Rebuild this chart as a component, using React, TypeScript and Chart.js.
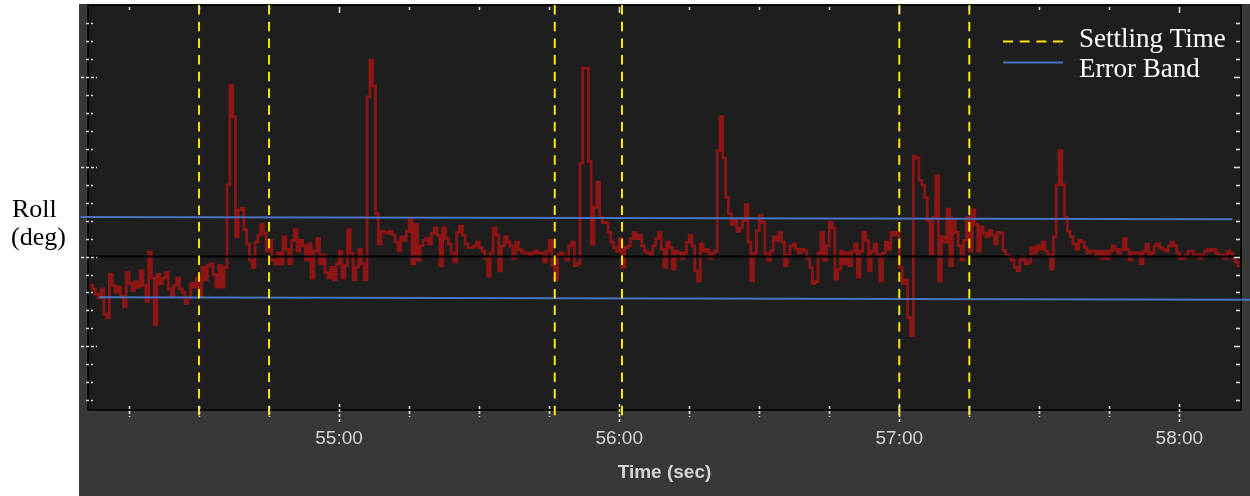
import React, { useEffect, useRef } from 'react';
import { Chart, registerables } from 'chart.js';

Chart.register(...registerables);

// ---- data ----
const ROLL_START = 54.11; // time of first sample
const ROLL_STEP = 0.01; // sample period
const rollDeg = [
  -1.6, -1.8, -2.1, -2.3, -1.8, -3.2, -3.4, -1.0, -1.6, -2.0,
  -1.7, -2.2, -2.8, -0.9, -1.5, -1.9, -1.4, -1.7, -0.8, -1.6,
  -2.5, 0.25, -1.2, -3.8, -1.0, -1.5, -1.2, -0.9, -1.8, -2.2,
  -1.6, -1.2, -1.8, -2.0, -2.6, -2.3, -1.5, -1.7, -1.2, -2.2,
  -0.6, -1.3, -0.5, -0.4, -1.0, -1.7, -0.5, -1.7, -0.6, 4.0,
  9.55, 7.8, 1.1, 2.6, 2.7, 1.5, 0.7, -0.2, -0.6, 0.8,
  1.2, 1.8, 1.3, 0.3, 0.9, -0.2, -0.4, 0.2, -0.4, 1.1,
  0.4, -0.4, 0.9, 1.5, 0.3, 0.9, 0.6, -0.2, 0.7, -1.2,
  0.3, 1.0, -0.4, 0.1, -0.9, -1.2, -0.6, -1.3, -0.4, 0.3,
  -1.2, -0.5, 1.5, 0.2, -1.3, -0.6, 0.4, -0.4, -1.3, 8.9,
  10.95, 9.5, 2.4, 0.7, 1.4, 1.35, 1.3, 1.4, 1.2, 0.8,
  0.3, 1.1, 0.9, 1.4, 2.1, -0.4, 1.8, -0.2, 0.6, 0.9,
  1.0, 0.7, 1.3, 1.6, 1.2, -0.5, 1.6, 1.0, 0.7, 0.2,
  -0.3, 1.35, 1.7, 1.2, 0.7, 0.5, 0.5, 0.6, 0.8, 0.5,
  0.3, -0.1, -1.1, 0.2, 1.6, 1.2, -0.8, 0.6, 1.1, 0.8,
  0.6, -0.1, 0.8, 0.4, 0.25, 0.2, 0.2, 0.1, 0.2, 0.3,
  0.2, 0.2, -0.3, 0.3, 0.9, -0.5, -1.3, 0.1, 0.2, 0.0,
  -0.2, 0.6, 0.8, -0.5, -0.4, 5.2, 10.5, 10.5, 5.3, 0.7,
  2.75, 4.15, 2.2, 1.9, 1.9, 1.35, 0.8, 0.5, 0.3, 1.0,
  -0.6, 0.5, 0.6, 1.0, 1.35, 1.0, 1.2, 0.6, 0.3, 0.2,
  0.1, 0.6, 1.0, 1.35, 0.4, -0.6, 0.8, 0.5, -0.7, 0.3,
  0.2, -0.1, 0.2, 0.8, 1.2, 0.6, -0.8, -1.35, 0.7, 0.3,
  0.4, -0.1, 0.2, 0.3, 5.9, 7.8, 5.5, 3.3, 2.4, 1.8,
  2.0, 1.4, 1.6, 2.0, 2.9, 0.8, -1.35, 0.2, 1.45, 2.3,
  1.9, 0.15, -0.2, 0.3, 1.1, 0.9, 1.35, 0.8, -0.5, 0.1,
  0.6, 0.7, 0.4, 0.2, 0.4, 0.3, -0.1, -0.6, -1.5, -1.4,
  0.2, 1.35, -0.2, 0.6, 1.9, 1.6, -1.25, -0.7, 0.3, -0.4,
  0.2, -0.5, 0.3, 0.7, -1.15, 0.3, 1.35, 0.9, -0.8, 0.3,
  0.7, 0.1, -1.35, 0.2, 0.8, 0.4, 1.35, 1.2, 1.35, -0.6,
  -1.5, -1.3, -3.4, -4.4, 5.6, 5.5, 4.25, 4.0, 3.3, 2.0,
  0.15, 2.2, 4.5, -1.35, 1.1, 0.8, 2.65, -0.5, 2.1, 1.35,
  0.6, -0.2, 0.9, 2.2, 0.3, 2.6, 1.8, 0.3, 1.65, 1.3,
  1.1, 1.45, 1.2, 0.7, 1.35, 1.3, 0.35, 0.1, 0.0, -0.2,
  -0.6, -0.8, -0.2, 0.0, -0.4, -0.3, 0.5, 0.2, 0.6, 0.4,
  0.8, 0.3, 0.1, -0.7, 1.1, 4.0, 5.9, 4.0, 2.2, 1.4,
  1.1, 0.7, 0.4, 0.9, 0.8, 0.5, 0.2, 0.3, 0.3, 0.1,
  0.3, -0.1, 0.3, -0.1, 0.3, 0.6, 0.4, 0.2, 0.4, 1.0,
  0.4, -0.2, 0.2, 0.2, 0.2, -0.4, 0.3, 0.7, 0.1, 0.2,
  0.6, 0.7, 0.5, 0.4, 0.3, 0.6, 0.8, 0.6, 0.2, -0.1,
  -0.1, 0.1, 0.3, 0.3, 0.1, 0.1, -0.1, 0.1, 0.3, 0.4,
  0.3, 0.4, 0.2, 0.1, 0.1, -0.1, 0.3, 0.2, -0.1, -0.3, -0.6,
];

const settlingTimes = [54.5, 54.75, 55.77, 56.01, 57.0, 57.25];
const settlingSpan = [14.02, -9.1]; // top/bottom of each settling marker (deg)

const bandUpperX = [54.078, 58.19];
const bandUpperY = [2.2, 2.08];
const bandLowerX = [54.143, 58.254];
const bandLowerY = [-2.27, -2.4];

const xTickValues = [55, 56, 57, 58];
const xTickLabels = ['55:00', '56:00', '57:00', '58:00'];

const X_MIN = 54.1036;
const X_MAX = 58.22;
const Y_MIN = -8.55;
const Y_MAX = 14.02;

const legendItems = ['Settling Time', 'Error Band'];
const yLabelLines = ['Roll', '(deg)'];

// ---- styles ----
const RED = '#8c1515';
const YELLOW = '#f7e600';
const BLUE = '#4b72c0';
const PANEL = '#383838';
const PLOT_BG = '#1e1e1e';
const TICK = '#dadada';
const LABEL = '#d4d4d4';
const YDASH = [9.5, 7.2];

const decorPlugin = {
  id: 'decor',
  beforeDraw(chart: any) {
    const { ctx, chartArea: a } = chart;
    ctx.save();
    ctx.fillStyle = '#ffffff';
    ctx.fillRect(0, 0, chart.width, chart.height);
    ctx.fillStyle = PANEL;
    ctx.fillRect(79, 4, chart.width - 79, chart.height - 4);
    ctx.fillStyle = PLOT_BG;
    ctx.fillRect(a.left, a.top, a.right - a.left, a.bottom - a.top);
    // y label on the white margin
    ctx.fillStyle = '#000000';
    ctx.font = '26px "Liberation Serif", "Times New Roman", serif';
    ctx.textBaseline = 'alphabetic';
    ctx.textAlign = 'left';
    ctx.fillText(yLabelLines[0], 12, 217);
    ctx.fillText(yLabelLines[1], 11, 245);
    ctx.restore();
  },
  beforeDatasetsDraw(chart: any) {
    const { ctx, chartArea: a } = chart;
    ctx.save();
    ctx.strokeStyle = '#000000';
    ctx.lineWidth = 1.5;
    ctx.strokeRect(a.left, a.top, a.right - a.left, a.bottom - a.top);
    ctx.restore();
  },
  afterDatasetsDraw(chart: any) {
    const { ctx, chartArea: a, scales } = chart;
    const xs = scales.x;
    const ys = scales.y;
    ctx.save();
    ctx.strokeStyle = TICK;
    ctx.lineWidth = 1.6;
    // x ticks (bottom dashed, top solid)
    for (let k = 1; k <= 16; k++) {
      const v = 54 + k * 0.25;
      if (v > X_MAX) break;
      const px = Math.round(xs.getPixelForValue(v)) + 0.5;
      const major = k % 4 === 0;
      ctx.setLineDash([3, 2]);
      ctx.beginPath();
      ctx.moveTo(px, a.bottom - (major ? 6 : 4));
      ctx.lineTo(px, a.bottom + (major ? 12 : 7));
      ctx.stroke();
      ctx.setLineDash([]);
      ctx.beginPath();
      ctx.moveTo(px, a.top + 2);
      ctx.lineTo(px, a.top + (major ? 8 : 5));
      ctx.stroke();
    }
    // y ticks (left dashed, right solid)
    for (let v = -8; v <= 13; v++) {
      const py = Math.round(ys.getPixelForValue(v)) + 0.5;
      const major = v % 5 === 0;
      ctx.setLineDash([3, 2]);
      ctx.beginPath();
      ctx.moveTo(a.left - (major ? 7 : 2), py);
      ctx.lineTo(a.left + (major ? 9 : 5), py);
      ctx.stroke();
      ctx.setLineDash([]);
      ctx.beginPath();
      ctx.moveTo(a.right - (major ? 7 : 5), py);
      ctx.lineTo(a.right - 1, py);
      ctx.stroke();
    }
    // legend
    const lx0 = 1003;
    const lx1 = 1063;
    ctx.lineWidth = 2;
    ctx.strokeStyle = YELLOW;
    ctx.setLineDash([10, 6.7]);
    ctx.beginPath();
    ctx.moveTo(lx0, 41.5);
    ctx.lineTo(lx1, 41.5);
    ctx.stroke();
    ctx.setLineDash([]);
    ctx.strokeStyle = BLUE;
    ctx.beginPath();
    ctx.moveTo(lx0, 62.5);
    ctx.lineTo(lx1, 62.5);
    ctx.stroke();
    ctx.fillStyle = '#ffffff';
    ctx.font = '27px "Liberation Serif", "Times New Roman", serif';
    ctx.textAlign = 'left';
    ctx.textBaseline = 'alphabetic';
    ctx.fillText(legendItems[0], 1079, 47);
    ctx.fillText(legendItems[1], 1079, 77);
    ctx.restore();
  },
};

export default function App() {
  const canvasRef = useRef<HTMLCanvasElement | null>(null);

  useEffect(() => {
    document.body.style.margin = '0';
    const canvas = canvasRef.current;
    if (!canvas) return;

    const settlingSets = settlingTimes.map((t) => ({
      label: 'Settling Time',
      data: [
        { x: t, y: settlingSpan[0] },
        { x: t, y: settlingSpan[1] },
      ],
      borderColor: YELLOW,
      borderWidth: 2,
      borderDash: YDASH,
      pointRadius: 0,
      clip: false as any,
      order: 0,
    }));

    const chart = new Chart(canvas, {
      type: 'line',
      data: {
        datasets: [
          ...settlingSets,
          {
            label: 'Error Band',
            data: bandUpperX.map((x, i) => ({ x, y: bandUpperY[i] })),
            borderColor: BLUE,
            borderWidth: 2,
            pointRadius: 0,
            clip: false as any,
            order: 1,
          },
          {
            label: 'Error Band',
            data: bandLowerX.map((x, i) => ({ x, y: bandLowerY[i] })),
            borderColor: BLUE,
            borderWidth: 2,
            pointRadius: 0,
            clip: false as any,
            order: 1,
          },
          {
            label: 'zero',
            data: [
              { x: X_MIN, y: 0 },
              { x: X_MAX, y: 0 },
            ],
            borderColor: '#000000',
            borderWidth: 2,
            pointRadius: 0,
            order: 2,
          },
          {
            label: 'Roll',
            data: rollDeg.map((v, i) => ({ x: ROLL_START + i * ROLL_STEP, y: v })),
            borderColor: RED,
            borderWidth: 2.8,
            stepped: true,
            pointRadius: 0,
            order: 3,
          },
        ],
      },
      options: {
        animation: false,
        responsive: false,
        devicePixelRatio: 1,
        events: [],
        layout: { padding: { left: 88, top: 5, right: 9, bottom: 0 } },
        plugins: {
          legend: { display: false },
          tooltip: { enabled: false },
        },
        scales: {
          x: {
            type: 'linear',
            min: X_MIN,
            max: X_MAX,
            afterBuildTicks: (s: any) => {
              s.ticks = xTickValues.map((v) => ({ value: v }));
            },
            afterFit: (s: any) => {
              s.height = 86;
            },
            grid: { display: false, drawTicks: false },
            border: { display: false },
            ticks: {
              autoSkip: false,
              maxRotation: 0,
              padding: 17,
              color: LABEL,
              font: { family: '"Liberation Sans", Arial, sans-serif', size: 19 },
              callback: (v: any) => {
                const i = xTickValues.indexOf(Number(v));
                return i >= 0 ? xTickLabels[i] : '';
              },
            },
            title: {
              display: true,
              text: 'Time (sec)',
              color: LABEL,
              font: { family: '"Liberation Sans", Arial, sans-serif', size: 19, weight: 'bold' },
              padding: { top: 0, bottom: 12 },
            },
          },
          y: {
            type: 'linear',
            min: Y_MIN,
            max: Y_MAX,
            display: false,
          },
        },
      },
      plugins: [decorPlugin],
    } as any);

    return () => chart.destroy();
  }, []);

  return (
    <div style={{ width: 1250, height: 496 }}>
      <canvas ref={canvasRef} width={1250} height={496} style={{ display: 'block' }} />
    </div>
  );
}
